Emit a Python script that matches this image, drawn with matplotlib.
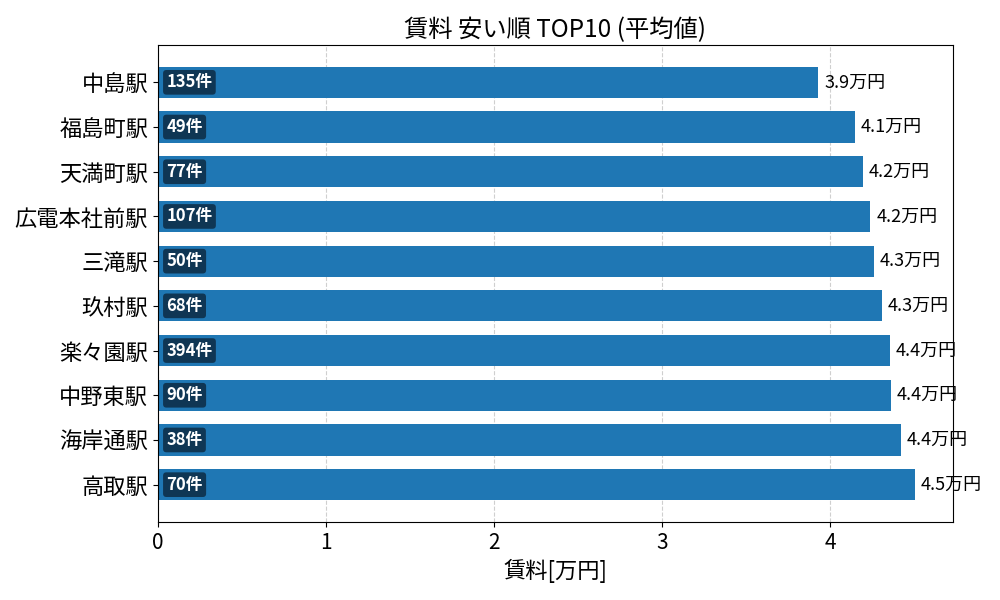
import matplotlib
matplotlib.use("Agg")
import matplotlib.pyplot as plt

plt.rcParams['font.family'] = ['Noto Sans CJK JP', 'DejaVu Sans']

stations = ["中島駅", "福島町駅", "天満町駅", "広電本社前駅", "三滝駅",
            "玖村駅", "楽々園駅", "中野東駅", "海岸通駅", "高取駅"]
rents = [3.928, 4.147, 4.193, 4.237, 4.260, 4.308, 4.355, 4.361, 4.421, 4.504]
counts = [135, 49, 77, 107, 50, 68, 394, 90, 38, 70]

fig, ax = plt.subplots(figsize=(10, 6), dpi=100)
y = list(range(len(stations)))
ax.barh(y, rents, height=0.7, color='#1f77b4', zorder=2)
ax.invert_yaxis()
ax.set_yticks(y)
ax.set_yticklabels(stations, fontsize=16)
ax.tick_params(axis='x', labelsize=15)
ax.set_xlim(0, max(rents) * 1.05)
ax.grid(axis='x', linestyle='--', alpha=0.6, zorder=0)
ax.set_axisbelow(True)

for yi, v, c in zip(y, rents, counts):
    ax.text(v + 0.035, yi, f"{v:.1f}万円", va='center', ha='left', fontsize=13)
    ax.text(0.05, yi, f"{c}件", va='center', ha='left', fontsize=12,
            color='white', fontweight='bold',
            bbox=dict(boxstyle='round,pad=0.2', facecolor='#0f3654', edgecolor='none'))

ax.set_xlabel("賃料[万円]", fontsize=16)
ax.set_title("賃料 安い順 TOP10 (平均値)", fontsize=17.5)
fig.subplots_adjust(left=0.158, right=0.953, top=0.925, bottom=0.13)
fig.savefig("out.png", dpi=100)
